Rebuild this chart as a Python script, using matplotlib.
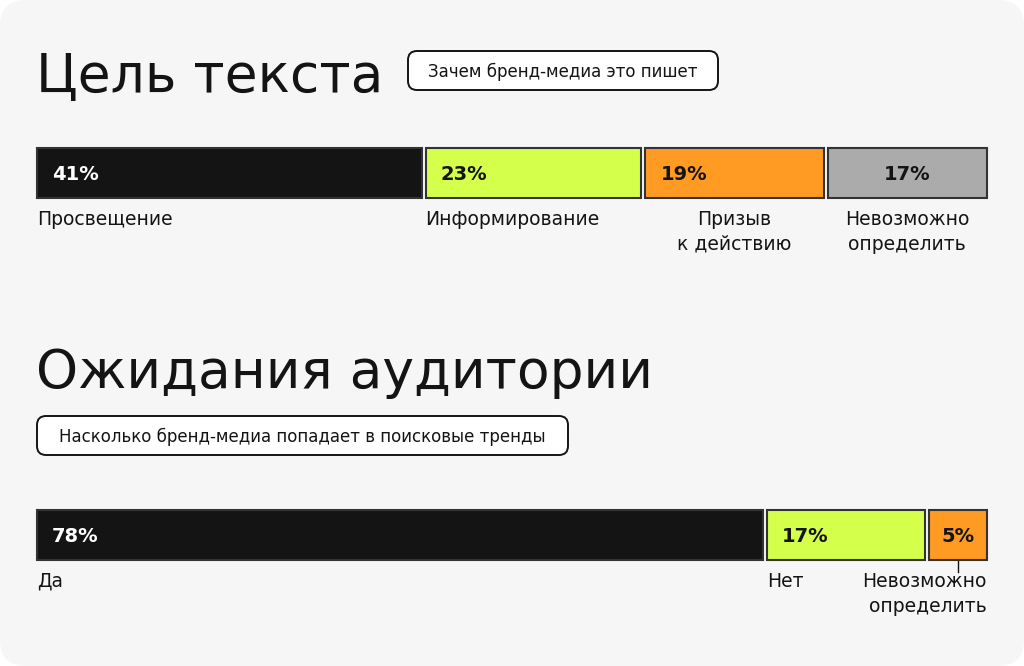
import matplotlib.pyplot as plt
from matplotlib.patches import FancyBboxPatch

plt.rcParams['font.family'] = ['DejaVu Sans']

# data
goal_labels = ['Просвещение', 'Информирование', 'Призыв\nк действию', 'Невозможно\nопределить']
goal_values = [41, 23, 19, 17]
goal_colors = ['#141414', '#d4ff4a', '#ff9a22', '#ababab']

aud_labels = ['Да', 'Нет', 'Невозможно\nопределить']
aud_values = [78, 17, 5]
aud_colors = ['#141414', '#d4ff4a', '#ff9a22']

BG = '#f6f6f6'
INK = '#141414'
LBL = 13.5
PCT = 14
TITLE = 38.5

fig = plt.figure(figsize=(10.24, 6.66), dpi=100)
fig.patch.set_facecolor('white')
ax = fig.add_axes([0, 0, 1, 1])
ax.set_xlim(0, 1024)
ax.set_ylim(666, 0)
ax.set_axis_off()

# card background
ax.add_patch(FancyBboxPatch((0, 0), 1024, 666, boxstyle='round,pad=0,rounding_size=26',
                            facecolor=BG, edgecolor='none', zorder=0))

X0, X1, GAP, MINW = 37, 987, 4, 58


def pill(x, y, w, h, text):
    ax.add_patch(FancyBboxPatch((x, y), w, h, boxstyle='round,pad=0,rounding_size=9',
                                facecolor='white', edgecolor=INK, lw=1.4, zorder=2))
    ax.text(x + w / 2, y + h / 2 + 1, text, ha='center', va='center',
            fontsize=12, color=INK, zorder=3)


def stacked(values, colors, y, h):
    # small segments get a minimum width so the label fits
    usable = (X1 - X0) - GAP * (len(values) - 1)
    small = [v for v in values if usable * v / sum(values) < MINW]
    rest = usable - MINW * len(small)
    big_total = sum(values) - sum(small)
    lefts, widths = [], []
    x = X0
    for v in values:
        w = MINW if v in small else rest * v / big_total
        lefts.append(x)
        widths.append(w)
        x += w + GAP
    ax.barh([y + h / 2] * len(values), widths, left=lefts, height=h,
            color=colors, edgecolor='#333333', linewidth=1.5, zorder=2)
    return lefts, widths


def pct(x, y, v, color, ha):
    ax.text(x, y, f'{v}%', ha=ha, va='center', fontsize=PCT, fontweight='bold',
            color=color, zorder=3)


# --- section 1
ax.text(36, 92, 'Цель текста', fontsize=TITLE, color=INK, ha='left', va='baseline')
pill(408, 51, 310, 39, 'Зачем бренд-медиа это пишет')

lefts, widths = stacked(goal_values, goal_colors, 148, 50)
pct(lefts[0] + 15, 174, goal_values[0], 'white', 'left')
pct(lefts[1] + 15, 174, goal_values[1], INK, 'left')
pct(lefts[2] + 15, 174, goal_values[2], INK, 'left')
pct(lefts[3] + widths[3] / 2, 174, goal_values[3], INK, 'center')

ax.text(lefts[0], 210, goal_labels[0], ha='left', va='top', fontsize=LBL, color=INK)
ax.text(lefts[1], 210, goal_labels[1], ha='left', va='top', fontsize=LBL, color=INK)
ax.text(lefts[2] + widths[2] / 2, 210, goal_labels[2], ha='center', va='top',
        fontsize=LBL, color=INK, linespacing=1.4)
ax.text(lefts[3] + widths[3] / 2, 210, goal_labels[3], ha='center', va='top',
        fontsize=LBL, color=INK, linespacing=1.4)

# --- section 2
ax.text(36, 388, 'Ожидания аудитории', fontsize=TITLE, color=INK, ha='left', va='baseline')
pill(37, 416, 531, 39, 'Насколько бренд-медиа попадает в поисковые тренды')

lefts, widths = stacked(aud_values, aud_colors, 510, 50)
pct(lefts[0] + 15, 536, aud_values[0], 'white', 'left')
pct(lefts[1] + 15, 536, aud_values[1], INK, 'left')
pct(lefts[2] + widths[2] / 2, 536, aud_values[2], INK, 'center')

ax.text(lefts[0], 572, aud_labels[0], ha='left', va='top', fontsize=LBL, color=INK)
ax.text(lefts[1], 572, aud_labels[1], ha='left', va='top', fontsize=LBL, color=INK)
ax.text(X1, 572, aud_labels[2], ha='right', va='top', fontsize=LBL, color=INK,
        linespacing=1.4, multialignment='right')
ax.plot([lefts[2] + widths[2] / 2] * 2, [560, 572], color=INK, lw=1, zorder=1)

fig.savefig('out.png', dpi=100, facecolor=fig.get_facecolor())
